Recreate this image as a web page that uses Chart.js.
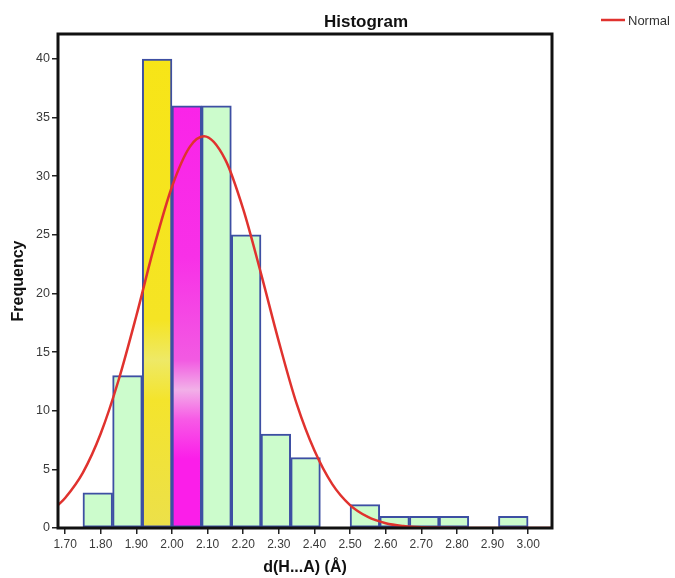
<!DOCTYPE html>
<html>
<head>
<meta charset="utf-8">
<script src="https://cdn.jsdelivr.net/npm/chart.js@4"></script>
<style>
  html,body{margin:0;padding:0;background:#fff;}
  #wrap{width:675px;height:578px;position:relative;}
</style>
</head>
<body>
<div id="wrap"><canvas id="c" width="675" height="578"></canvas></div>
<script>
// ---- data ----
const binCenters = [1.7917, 1.875, 1.9583, 2.0417, 2.125, 2.2083, 2.2917, 2.375, 2.4583, 2.5417, 2.625, 2.7083, 2.7917, 2.875, 2.9583];
const binCounts  = [3, 13, 40, 36, 36, 25, 8, 6, null, 2, 1, 1, 1, null, 1];
const highlight  = ['g','g','y','m','g','g','g','g','g','g','g','g','g','g','g'];
const normalX = [1.68, 1.70, 1.75, 1.80, 1.85, 1.90, 1.95, 2.00, 2.05, 2.09, 2.15, 2.20, 2.25, 2.30, 2.35, 2.40, 2.45, 2.50, 2.55, 2.60, 2.65, 2.70, 2.80, 2.90, 3.07];
const normalY = [1.95, 2.56, 4.73, 8.06, 12.6, 18.1, 24.0, 29.1, 32.5, 33.4, 31.4, 27.2, 21.7, 15.9, 10.6, 6.6, 3.74, 1.95, 0.94, 0.41, 0.17, 0.06, 0.01, 0, 0];
const xTicks = [1.70, 1.80, 1.90, 2.00, 2.10, 2.20, 2.30, 2.40, 2.50, 2.60, 2.70, 2.80, 2.90, 3.00];
const yTicks = [0, 5, 10, 15, 20, 25, 30, 35, 40];
const chartTitle = 'Histogram';
const xTitle = 'd(H...A) (Å)';
const yTitle = 'Frequency';
const legendLabel = 'Normal';

const FONT = "'Liberation Sans', Arial, sans-serif";

function barFill(ctx) {
  const i = ctx.dataIndex;
  const kind = highlight[i];
  const area = ctx.chart.chartArea;
  if (kind === 'g' || !area) return kind === 'y' ? '#f6e41c' : kind === 'm' ? '#fb1ee9' : '#ccfccc';
  const c = ctx.chart.ctx;
  const g = c.createLinearGradient(0, area.top, 0, area.bottom);
  if (kind === 'y') {
    g.addColorStop(0, '#f7e516');
    g.addColorStop(0.58, '#f5e424');
    g.addColorStop(0.66, '#eee966');
    g.addColorStop(0.74, '#f4e42c');
    g.addColorStop(1, '#ece04a');
  } else {
    g.addColorStop(0, '#fb1ee9');
    g.addColorStop(0.45, '#f830e7');
    g.addColorStop(0.66, '#f25ae2');
    g.addColorStop(0.72, '#f2b0e8');
    g.addColorStop(0.78, '#f75ae6');
    g.addColorStop(0.86, '#fb1ee9');
    g.addColorStop(1, '#fb1ee9');
  }
  return g;
}

const framePlugin = {
  id: 'frame',
  afterDatasetsDraw(chart) {
    const {ctx, chartArea: a} = chart;
    ctx.save();
    ctx.strokeStyle = '#111';
    ctx.lineWidth = 3;
    ctx.strokeRect(a.left, a.top, a.right - a.left, a.bottom - a.top);
    ctx.restore();
  },
  afterDraw(chart) {
    const {ctx} = chart;
    ctx.save();
    ctx.fillStyle = '#111';
    ctx.font = "bold 17px " + FONT;
    ctx.textAlign = 'center';
    ctx.textBaseline = 'alphabetic';
    ctx.fillText(chartTitle, 366, 27);
    ctx.strokeStyle = '#e0322e';
    ctx.lineWidth = 2.5;
    ctx.beginPath();
    ctx.moveTo(601, 20);
    ctx.lineTo(625, 20);
    ctx.stroke();
    ctx.fillStyle = '#333';
    ctx.font = "13px " + FONT;
    ctx.textAlign = 'left';
    ctx.textBaseline = 'middle';
    ctx.fillText(legendLabel, 628, 21);
    ctx.restore();
  }
};

new Chart(document.getElementById('c'), {
  data: {
    datasets: [
      {
        type: 'line',
        label: legendLabel,
        data: normalX.map((x, i) => ({x: x, y: normalY[i]})),
        borderColor: '#e0322e',
        borderWidth: 2.5,
        pointRadius: 0,
        cubicInterpolationMode: 'monotone',
        fill: false,
        order: 0
      },
      {
        type: 'bar',
        label: 'Frequency',
        data: binCenters.map((x, i) => ({x: x, y: binCounts[i]})),
        backgroundColor: barFill,
        borderColor: '#3d4fa3',
        borderWidth: 2,
        borderSkipped: false,
        barPercentage: 1,
        categoryPercentage: 1,
        order: 1
      }
    ]
  },
  options: {
    responsive: false,
    animation: false,
    devicePixelRatio: 1,
    layout: {padding: {top: 34, right: 123, left: 0, bottom: 0}},
    plugins: {legend: {display: false}, title: {display: false}, tooltip: {enabled: false}},
    scales: {
      x: {
        type: 'linear',
        offset: false,
        min: 1.68,
        max: 3.067,
        afterBuildTicks(scale) { scale.ticks = xTicks.map(v => ({value: v})); },
        afterFit(scale) { scale.height = 50; },
        grid: {display: true, offset: false, drawOnChartArea: false, drawTicks: true, tickLength: 6, color: '#222', lineWidth: 1.5},
        border: {display: false},
        ticks: {
          color: '#3a3a3a',
          font: {family: FONT, size: 12},
          padding: 3,
          maxRotation: 0,
          autoSkip: false,
          callback: v => Number(v).toFixed(2)
        },
        title: {display: true, text: xTitle, color: '#111', font: {family: FONT, size: 16, weight: 'bold'}, padding: {top: 0, bottom: 1}}
      },
      y: {
        type: 'linear',
        min: 0,
        max: 42.13,
        afterBuildTicks(scale) { scale.ticks = yTicks.map(v => ({value: v})); },
        afterFit(scale) { scale.width = 58; },
        grid: {display: true, drawOnChartArea: false, drawTicks: true, tickLength: 6, color: '#222', lineWidth: 1.5},
        border: {display: false},
        ticks: {color: '#3a3a3a', font: {family: FONT, size: 12.5}, padding: 2},
        title: {display: true, text: yTitle, color: '#111', font: {family: FONT, size: 16, weight: 'bold'}, padding: {top: 9, bottom: 0}}
      }
    }
  },
  plugins: [framePlugin]
});
</script>
</body>
</html>
